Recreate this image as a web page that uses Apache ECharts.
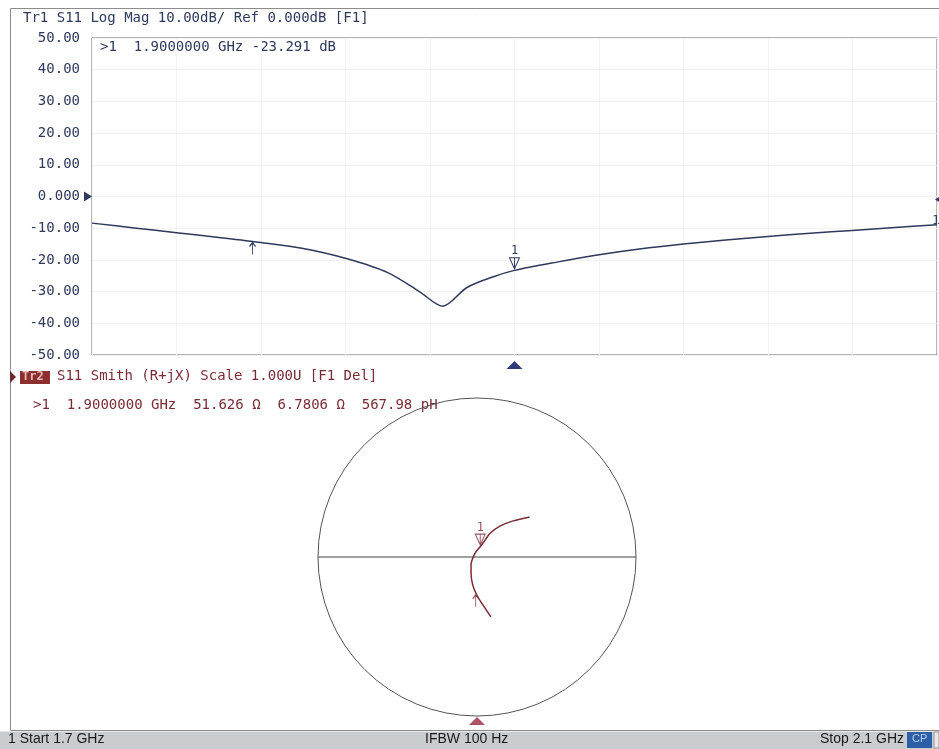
<!DOCTYPE html>
<html>
<head>
<meta charset="utf-8">
<script src="https://cdn.jsdelivr.net/npm/echarts@6/dist/echarts.min.js"></script>
<style>
html,body{margin:0;padding:0;background:#fff;}
#chart{width:939px;height:749px;}
</style>
</head>
<body>
<div id="chart"></div>
<script>
// ---- Trace 1: S11 Log Mag (GHz, dB)
const freqGHz = [1.70, 1.72, 1.74, 1.76, 1.78, 1.80, 1.82, 1.84, 1.855, 1.866, 1.8775, 1.89, 1.90, 1.92, 1.94, 1.96, 1.98, 2.00, 2.02, 2.04, 2.06, 2.08, 2.10];
const s11dB   = [-8.4, -9.9, -11.4, -12.9, -14.5, -16.4, -19.5, -24.0, -30.0, -34.6, -28.7, -25.3, -23.3, -20.7, -18.4, -16.5, -15.0, -13.7, -12.6, -11.6, -10.7, -9.8, -8.9];
const yTickValues = [-50, -40, -30, -20, -10, 0, 10, 20, 30, 40, 50];

// ---- Markers
const marker1Freq = 1.9;
const marker1dB = -23.291;
const refMarkFreq = 1.776;
const refMarkdB = -14.2;

// ---- Trace 2: S11 Smith (reflection coefficient, real / imaginary)
const smithRe = [0.0875, 0.036, -0.002, -0.027, -0.0375, -0.0375, -0.023, -0.006, 0.020, 0.053, 0.081, 0.144, 0.227, 0.331];
const smithIm = [-0.377, -0.300, -0.2375, -0.175, -0.102, -0.050, 0.002, 0.034, 0.065, 0.109, 0.148, 0.194, 0.227, 0.252];
const smithRefIndex = 2;
const marker1R = 51.626;   // ohm
const marker1X = 6.7806;   // ohm
const z0 = 50;

// ---- Texts
const titleTop = 'Tr1 S11 Log Mag 10.00dB/ Ref 0.000dB [F1]';
const readoutTop = '>1  1.9000000 GHz -23.291 dB';
const titleBottom = 'S11 Smith (R+jX) Scale 1.000U [F1 Del]';
const readoutBottom = '>1  1.9000000 GHz  51.626 Ω  6.7806 Ω  567.98 pH';
const statusLeft = '1 Start 1.7 GHz';
const statusMid = 'IFBW 100 Hz';
const statusRight = 'Stop 2.1 GHz';

const blue = '#2e3a5c';
const red = '#7a2b33';
const mono = '"DejaVu Sans Mono", monospace';
const narrow = '"Liberation Sans Narrow", "Liberation Sans", Arial, sans-serif';

function toPolar(re, im) {
  const r = Math.sqrt(re * re + im * im);
  let a = Math.atan2(im, re) * 180 / Math.PI;
  if (a < 0) a += 360;
  return [r, a];
}
const logMagData = freqGHz.map((f, i) => [f, s11dB[i]]);
const smithData = smithRe.map((re, i) => toPolar(re, smithIm[i]));
// marker 1 impedance -> reflection coefficient
const zr = marker1R / z0, zx = marker1X / z0;
const den = (zr + 1) * (zr + 1) + zx * zx;
const g1re = ((zr - 1) * (zr + 1) + zx * zx) / den;
const g1im = (zx * (zr + 1) - (zr - 1) * zx) / den;
const smithMarker1 = toPolar(g1re, g1im);

const markerPath = 'path://M0,0L10,0L5,11Z M5,0L5,11';
const arrowPath = 'path://M5,0L5,12 M2,4L5,0L8,4';

const chart = echarts.init(document.getElementById('chart'), null, {renderer: 'canvas'});
chart.setOption({
  backgroundColor: '#ffffff',
  animation: false,
  grid: {left: 92, right: 2, top: 38, height: 317, show: true, borderColor: '#6a6a6a', borderWidth: 1, backgroundColor: 'transparent'},
  xAxis: {
    type: 'value', min: 1.7, max: 2.1, interval: 0.04,
    axisLine: {show: false}, axisTick: {show: false}, axisLabel: {show: false},
    splitLine: {show: true, lineStyle: {color: '#f4f4f4', width: 1}}
  },
  yAxis: {
    type: 'value', min: -50, max: 50, interval: 10,
    axisLine: {show: false}, axisTick: {show: false},
    axisLabel: {
      color: blue, fontFamily: mono, fontSize: 14, margin: 12,
      formatter: v => (yTickValues.indexOf(v) < 0 ? '' : (v === 0 ? '0.000' : v.toFixed(2)))
    },
    splitLine: {show: true, lineStyle: {color: '#f2f2f2', width: 1}}
  },
  polar: {center: [477, 557], radius: 159},
  angleAxis: {
    type: 'value', min: 0, max: 360, interval: 180, startAngle: 0, clockwise: false,
    axisLine: {show: true, lineStyle: {color: '#555', width: 1}},
    axisTick: {show: false}, axisLabel: {show: false},
    splitLine: {show: true, lineStyle: {color: '#444', width: 1}}
  },
  radiusAxis: {type: 'value', min: 0, max: 1, show: false},
  series: [
    {
      type: 'line', xAxisIndex: 0, yAxisIndex: 0, data: logMagData,
      showSymbol: false, smooth: 0.3, clip: false,
      lineStyle: {color: blue, width: 1.5},
      markPoint: {
        silent: true,
        data: [
          {coord: [marker1Freq, marker1dB], symbol: markerPath, symbolSize: [10, 11], symbolOffset: [0, -7],
            itemStyle: {color: 'rgba(0,0,0,0)', borderColor: blue, borderWidth: 1},
            label: {show: true, formatter: '1', position: 'top', distance: 0, color: blue, fontFamily: mono, fontSize: 12}},
          {coord: [refMarkFreq, refMarkdB], symbol: arrowPath, symbolSize: [6, 12], symbolOffset: [0, 7],
            itemStyle: {color: 'rgba(0,0,0,0)', borderColor: blue, borderWidth: 1.2}, label: {show: false}},
          {coord: [1.7, 0], symbol: 'triangle', symbolSize: [10, 8], symbolRotate: -90, symbolOffset: [-4, 0],
            itemStyle: {color: blue}, label: {show: false}},
          {coord: [2.1, 0], symbol: 'triangle', symbolSize: [10, 8], symbolRotate: 90, symbolOffset: [2, 3],
            itemStyle: {color: '#2e3a7a'}, label: {show: false}},
          {coord: [marker1Freq, -50], symbol: 'triangle', symbolSize: [16, 8], symbolOffset: [0, 10],
            itemStyle: {color: '#2e3a7a'}, label: {show: false}}
        ]
      }
    },
    {
      type: 'line', coordinateSystem: 'polar', polarIndex: 0, data: smithData,
      showSymbol: false, smooth: 0.3,
      lineStyle: {color: red, width: 1.5}
    },
    {
      type: 'scatter', coordinateSystem: 'polar', polarIndex: 0, silent: true,
      data: [
        {value: smithMarker1, symbol: markerPath, symbolSize: [10, 11], symbolOffset: [0, -7],
          itemStyle: {color: 'rgba(0,0,0,0)', borderColor: red, borderWidth: 1},
          label: {show: true, formatter: '1', position: 'top', distance: 0, color: red, fontFamily: mono, fontSize: 12}},
        {value: smithData[smithRefIndex], symbol: arrowPath, symbolSize: [6, 12], symbolOffset: [-1, 6],
          itemStyle: {color: 'rgba(0,0,0,0)', borderColor: red, borderWidth: 1.2}},
        {value: [1, 270], symbol: 'triangle', symbolSize: [16, 8], symbolOffset: [0, 5],
          itemStyle: {color: '#9a2840'}}
      ]
    }
  ],
  graphic: [
    {type: 'rect', shape: {x: 10.5, y: 8.5, width: 940, height: 722}, style: {fill: 'none', stroke: '#8c8c8c', lineWidth: 1}, silent: true},
    {type: 'text', left: 23, top: 11, style: {text: titleTop, fill: blue, font: '14px ' + mono}},
    {type: 'text', left: 100, top: 40, style: {text: readoutTop, fill: blue, font: '14px ' + mono}},
    {type: 'text', left: 932, top: 214, style: {text: '1', fill: blue, font: '13px ' + mono}},
    {type: 'polygon', shape: {points: [[10, 371], [16, 377], [10, 383]]}, style: {fill: '#6a2a2a'}},
    {type: 'rect', shape: {x: 20, y: 371, width: 30, height: 13}, style: {fill: '#8c2f2f'}},
    {type: 'text', left: 22, top: 371, style: {text: 'Tr2', fill: '#e9b8b4', font: 'bold 12px ' + mono}},
    {type: 'text', left: 57, top: 369, style: {text: titleBottom, fill: red, font: '14px ' + mono}},
    {type: 'text', left: 33, top: 398, style: {text: readoutBottom, fill: red, font: '14px ' + mono}},
    {type: 'rect', shape: {x: 0, y: 731, width: 939, height: 18}, style: {fill: '#c9cdcf'}},
    {type: 'rect', shape: {x: 0, y: 731, width: 939, height: 1}, style: {fill: '#e6e8e9'}},
    {type: 'text', left: 8, top: 732, style: {text: statusLeft, fill: '#1a1a1a', font: '14px ' + narrow}},
    {type: 'text', left: 425, top: 732, style: {text: statusMid, fill: '#1a1a1a', font: '14px ' + narrow}},
    {type: 'text', left: 820, top: 732, style: {text: statusRight, fill: '#1a1a1a', font: '14px ' + narrow}},
    {type: 'rect', shape: {x: 907, y: 732, width: 25, height: 16}, style: {fill: '#2d5fa8'}},
    {type: 'text', left: 912, top: 733, style: {text: 'CP', fill: '#b8d0f0', font: '11px ' + narrow}},
    {type: 'rect', shape: {x: 934, y: 732, width: 5, height: 16}, style: {fill: '#e4e6e8', stroke: '#999', lineWidth: 1}}
  ]
});
</script>
</body>
</html>
